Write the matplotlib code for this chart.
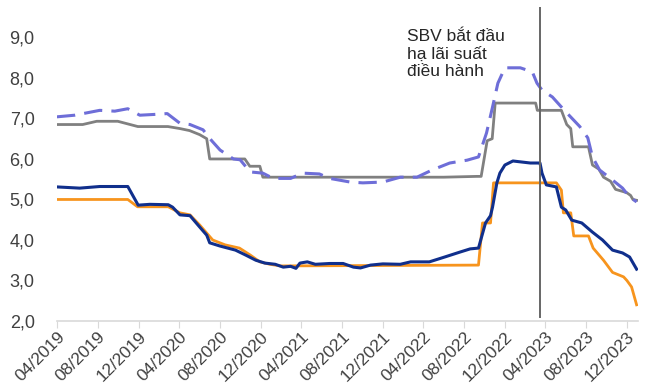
import pandas as pd
import matplotlib
matplotlib.use("Agg")
import matplotlib.pyplot as plt
import matplotlib.dates as mdates

plt.rcParams['font.family'] = ['Liberation Sans', 'DejaVu Sans']

# grey solid series
gray_dates = ['2019-04-01', '2019-06-17', '2019-07-29', '2019-09-30', '2019-11-29', '2020-02-27',
              '2020-04-03', '2020-05-02', '2020-06-01', '2020-06-22', '2020-07-01', '2020-10-14',
              '2020-10-29', '2020-11-28', '2020-12-07', '2022-06-01', '2022-09-09', '2022-09-21',
              '2022-10-09', '2022-10-24', '2022-11-02', '2023-03-03', '2023-03-08', '2023-05-19',
              '2023-06-04', '2023-06-16', '2023-06-22', '2023-08-08', '2023-08-20', '2023-09-08',
              '2023-09-22', '2023-10-13', '2023-10-28', '2023-11-30', '2023-12-12', '2023-12-19',
              '2023-12-30']
gray_vals = [6.85, 6.85, 6.93, 6.93, 6.80, 6.80,
             6.75, 6.70, 6.60, 6.50, 6.00, 6.00,
             5.82, 5.82, 5.55, 5.55, 5.57, 5.57,
             6.45, 6.50, 7.38, 7.38, 7.20, 7.20,
             6.85, 6.75, 6.30, 6.30, 5.85, 5.75,
             5.55, 5.45, 5.25, 5.17, 5.10, 5.00,
             4.98]

# dashed series
dash_dates = ['2019-04-01', '2019-05-24', '2019-08-07', '2019-09-21', '2019-10-30', '2019-12-05',
              '2020-01-19', '2020-02-25', '2020-04-03', '2020-05-03', '2020-06-11', '2020-07-07',
              '2020-08-01', '2020-09-10', '2020-09-30', '2020-10-30', '2020-12-07', '2021-01-07',
              '2021-02-28', '2021-04-05', '2021-05-25', '2021-06-25', '2021-08-25', '2021-10-02',
              '2021-12-01', '2022-01-22', '2022-03-13', '2022-04-28', '2022-06-19', '2022-08-10',
              '2022-09-13', '2022-10-07', '2022-10-25', '2022-11-10', '2022-12-01', '2023-01-16',
              '2023-02-21', '2023-03-07', '2023-03-22', '2023-04-22', '2023-05-28', '2023-07-13',
              '2023-08-06', '2023-08-20', '2023-09-10', '2023-10-19', '2023-11-18', '2023-12-09',
              '2023-12-30']
dash_vals = [7.04, 7.08, 7.20, 7.18, 7.24, 7.08,
             7.10, 7.12, 6.88, 6.85, 6.72, 6.45,
             6.22, 6.00, 5.98, 5.68, 5.65, 5.52,
             5.52, 5.65, 5.63, 5.52, 5.43, 5.41,
             5.43, 5.55, 5.55, 5.73, 5.90, 5.97,
             6.05, 6.64, 7.28, 7.87, 8.25, 8.25,
             8.15, 7.87, 7.70, 7.53, 7.20, 6.80,
             6.52, 6.05, 5.73, 5.48, 5.28, 5.06,
             4.94]

# navy solid series
navy_dates = ['2019-04-01', '2019-06-08', '2019-08-07', '2019-10-30', '2019-11-30', '2020-01-04',
              '2020-02-28', '2020-03-12', '2020-04-03', '2020-05-03', '2020-06-01', '2020-06-22',
              '2020-07-01', '2020-08-01', '2020-09-16', '2020-10-16', '2020-11-16', '2020-12-13',
              '2021-01-13', '2021-02-06', '2021-02-28', '2021-03-16', '2021-03-28', '2021-04-19',
              '2021-05-13', '2021-06-25', '2021-08-04', '2021-09-04', '2021-09-25', '2021-10-25',
              '2021-12-01', '2022-01-22', '2022-02-22', '2022-04-19', '2022-06-04', '2022-07-19',
              '2022-08-19', '2022-09-13', '2022-10-04', '2022-10-19', '2022-10-25', '2022-11-07',
              '2022-11-16', '2022-12-01', '2022-12-25', '2023-02-15', '2023-03-16', '2023-03-22',
              '2023-04-04', '2023-05-04', '2023-05-19', '2023-06-01', '2023-06-19', '2023-07-19',
              '2023-08-19', '2023-09-19', '2023-10-19', '2023-11-18', '2023-12-09', '2023-12-30']
navy_vals = [5.31, 5.28, 5.32, 5.32, 4.86, 4.88,
             4.87, 4.81, 4.62, 4.60, 4.32, 4.12,
             3.93, 3.85, 3.75, 3.63, 3.50, 3.43,
             3.40, 3.33, 3.35, 3.30, 3.43, 3.46,
             3.40, 3.42, 3.42, 3.33, 3.31, 3.38,
             3.41, 3.40, 3.46, 3.46, 3.58, 3.70,
             3.78, 3.80, 4.42, 4.60, 4.81, 5.41,
             5.65, 5.85, 5.95, 5.90, 5.90, 5.65,
             5.36, 5.31, 4.81, 4.74, 4.49, 4.42,
             4.20, 4.00, 3.75, 3.68, 3.58, 3.28]

# orange solid series
orange_dates = ['2019-04-01', '2019-10-30', '2019-11-28', '2020-02-28', '2020-04-03', '2020-05-03',
                '2020-06-01', '2020-07-10', '2020-08-16', '2020-09-28', '2020-10-30', '2020-11-28',
                '2020-12-28', '2021-01-28', '2022-09-13', '2022-09-25', '2022-10-19', '2022-10-28',
                '2023-05-04', '2023-05-19', '2023-05-25', '2023-06-16', '2023-06-25', '2023-08-08',
                '2023-08-22', '2023-09-22', '2023-10-19', '2023-11-21', '2023-12-01', '2023-12-15',
                '2023-12-30']
orange_vals = [5.00, 5.00, 4.82, 4.82, 4.67, 4.62,
               4.37, 4.00, 3.88, 3.80, 3.63, 3.46,
               3.40, 3.36, 3.38, 4.42, 4.42, 5.41,
               5.41, 5.23, 4.67, 4.67, 4.10, 4.10,
               3.80, 3.50, 3.20, 3.09, 3.00, 2.84,
               2.40]

sbv_date = '2023-03-15'
sbv_label = 'SBV bắt đầu\nhạ lãi suất\nđiều hành'
y_ticks = [2, 3, 4, 5, 6, 7, 8, 9]
x_ticks = pd.date_range('2019-04-01', '2023-12-01', freq='4MS')

fig = plt.figure(figsize=(6.47, 3.91), dpi=100)
ax = fig.add_axes([0.088, 0.179, 0.898, 0.803])

ax.plot(pd.to_datetime(orange_dates), orange_vals, color='#F7941D', lw=2.0, zorder=3)
ax.plot(pd.to_datetime(navy_dates), navy_vals, color='#102F8C', lw=2.2, zorder=4)
ax.plot(pd.to_datetime(gray_dates), gray_vals, color='#808080', lw=2.0, zorder=3)
ax.plot(pd.to_datetime(dash_dates), dash_vals, color='#6E6ED8', lw=2.2,
        dashes=(6, 3), zorder=4)

ax.axvline(pd.Timestamp(sbv_date), ymin=0.013, ymax=1, color='#666666', lw=1.4, zorder=5)
ax.text(pd.Timestamp('2022-02-12'), 9.2, sbv_label, fontsize=12.5, color='#262626',
        va='top', ha='left', linespacing=1.2)

ax.set_ylim(2, 9.75)
ax.set_xlim(pd.Timestamp('2019-04-01'), pd.Timestamp('2024-01-03'))
ax.set_yticks(y_ticks)
ax.set_yticklabels([f'{v:.1f}'.replace('.', ',') for v in y_ticks])
ax.set_xticks(x_ticks)
ax.xaxis.set_major_formatter(mdates.DateFormatter('%m/%Y'))

for s in ['top', 'right', 'left']:
    ax.spines[s].set_visible(False)
ax.spines['bottom'].set_color('#D9D9D9')
ax.spines['bottom'].set_linewidth(1.2)
ax.tick_params(axis='y', length=0, labelsize=13, labelcolor='#404040', pad=16)
ax.tick_params(axis='x', length=5, color='#D9D9D9', labelsize=12.5, labelcolor='#404040',
               labelrotation=45, pad=1)
for lbl in ax.get_xticklabels():
    lbl.set_ha('right')
    lbl.set_rotation_mode('anchor')

fig.savefig('out.png', dpi=100)
